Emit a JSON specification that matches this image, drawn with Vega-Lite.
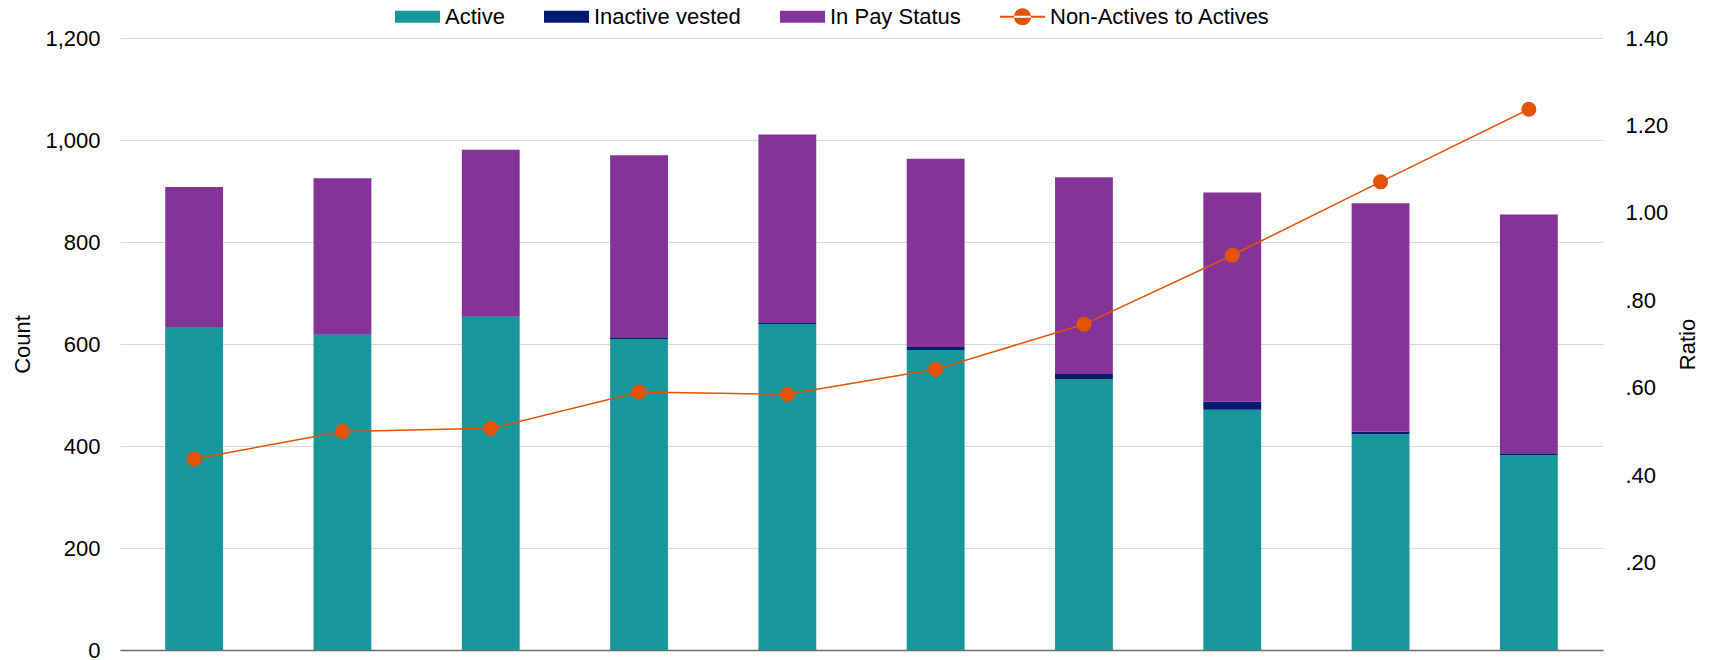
{
  "$schema": "https://vega.github.io/schema/vega-lite/v6.json",
  "width": 1483,
  "height": 612,
  "autosize": {"type": "none"},
  "padding": {"left": 120, "top": 38, "right": 111, "bottom": 10},
  "background": "white",
  "config": {
    "font": "Liberation Sans",
    "view": {"stroke": null},
    "axis": {"labelFont": "Liberation Sans", "titleFont": "Liberation Sans", "labelFontSize": 22, "titleFontSize": 22, "titleFontWeight": "normal", "labelColor": "#000000", "titleColor": "#000000"}
  },
  "datasets": {
    "bars": [
      {"period": "1", "series": "Active", "order": 1, "count": 632},
      {"period": "1", "series": "Inactive vested", "order": 2, "count": 1},
      {"period": "1", "series": "In Pay Status", "order": 3, "count": 275},
      {"period": "2", "series": "Active", "order": 1, "count": 618},
      {"period": "2", "series": "Inactive vested", "order": 2, "count": 1},
      {"period": "2", "series": "In Pay Status", "order": 3, "count": 306},
      {"period": "3", "series": "Active", "order": 1, "count": 653},
      {"period": "3", "series": "Inactive vested", "order": 2, "count": 1},
      {"period": "3", "series": "In Pay Status", "order": 3, "count": 327},
      {"period": "4", "series": "Active", "order": 1, "count": 610},
      {"period": "4", "series": "Inactive vested", "order": 2, "count": 3},
      {"period": "4", "series": "In Pay Status", "order": 3, "count": 357},
      {"period": "5", "series": "Active", "order": 1, "count": 639},
      {"period": "5", "series": "Inactive vested", "order": 2, "count": 2},
      {"period": "5", "series": "In Pay Status", "order": 3, "count": 370},
      {"period": "6", "series": "Active", "order": 1, "count": 588},
      {"period": "6", "series": "Inactive vested", "order": 2, "count": 6},
      {"period": "6", "series": "In Pay Status", "order": 3, "count": 369},
      {"period": "7", "series": "Active", "order": 1, "count": 531},
      {"period": "7", "series": "Inactive vested", "order": 2, "count": 10},
      {"period": "7", "series": "In Pay Status", "order": 3, "count": 386},
      {"period": "8", "series": "Active", "order": 1, "count": 471},
      {"period": "8", "series": "Inactive vested", "order": 2, "count": 16},
      {"period": "8", "series": "In Pay Status", "order": 3, "count": 410},
      {"period": "9", "series": "Active", "order": 1, "count": 423},
      {"period": "9", "series": "Inactive vested", "order": 2, "count": 5},
      {"period": "9", "series": "In Pay Status", "order": 3, "count": 448},
      {"period": "10", "series": "Active", "order": 1, "count": 382},
      {"period": "10", "series": "Inactive vested", "order": 2, "count": 4},
      {"period": "10", "series": "In Pay Status", "order": 3, "count": 468}
    ],
    "ratio": [
      {"period": "1", "series": "Non-Actives to Actives", "ratio": 0.437},
      {"period": "2", "series": "Non-Actives to Actives", "ratio": 0.5},
      {"period": "3", "series": "Non-Actives to Actives", "ratio": 0.507},
      {"period": "4", "series": "Non-Actives to Actives", "ratio": 0.59},
      {"period": "5", "series": "Non-Actives to Actives", "ratio": 0.585},
      {"period": "6", "series": "Non-Actives to Actives", "ratio": 0.642},
      {"period": "7", "series": "Non-Actives to Actives", "ratio": 0.745},
      {"period": "8", "series": "Non-Actives to Actives", "ratio": 0.903},
      {"period": "9", "series": "Non-Actives to Actives", "ratio": 1.071},
      {"period": "10", "series": "Non-Actives to Actives", "ratio": 1.237}
    ]
  },
  "encoding": {
    "x": {
      "field": "period", "type": "nominal", "sort": null,
      "scale": {"paddingInner": 0.61, "paddingOuter": 0.305},
      "axis": {"title": null, "labels": false, "ticks": false, "domain": true, "domainColor": "#6b6b6b", "domainWidth": 1.5, "grid": false}
    }
  },
  "layer": [
    {
      "data": {"name": "bars"},
      "mark": {"type": "bar"},
      "encoding": {
        "y": {
          "field": "count", "type": "quantitative", "stack": "zero",
          "scale": {"domain": [0, 1200], "nice": false},
          "axis": {"title": "Count", "values": [0, 200, 400, 600, 800, 1000, 1200], "format": ",d", "grid": true, "gridColor": "#d9d9d9", "gridWidth": 1, "domain": false, "ticks": false, "labelPadding": 20, "titlePadding": 10}
        },
        "order": {"field": "order", "type": "quantitative"},
        "color": {
          "field": "series", "type": "nominal",
          "scale": {
            "domain": ["Active", "Inactive vested", "In Pay Status", "Non-Actives to Actives"],
            "range": ["#17979c", "#001c71", "#843396", "#e35205"]
          },
          "legend": {
            "orient": "none", "legendX": 275, "legendY": -44, "direction": "horizontal", "title": null,
            "symbolSize": 2025, "symbolStrokeWidth": 0, "labelFontSize": 22, "labelFont": "Liberation Sans", "labelColor": "#000000", "labelLimit": 500,
            "columnPadding": 39, "labelOffset": 5, "padding": 0,
            "encode": {
              "symbols": {
                "update": {
                  "shape": {"signal": "datum.value === 'Non-Actives to Actives' ? 'M-1,-0.04H1V0.04H-1Z M-0.38,0A0.38,0.38,0,1,0,0.38,0A0.38,0.38,0,1,0,-0.38,0Z' : 'M-1,-0.27H1V0.27H-1Z'"},
                  "fill": {"scale": "color", "field": "value"},
                  "opacity": {"value": 1}
                }
              }
            }
          }
        }
      }
    },
    {
      "data": {"name": "ratio"},
      "mark": {"type": "line", "strokeWidth": 1.5, "point": {"filled": true, "size": 227, "opacity": 1}},
      "encoding": {
        "y": {
          "field": "ratio", "type": "quantitative",
          "scale": {"domain": [0, 1.4], "nice": false},
          "axis": {"title": "Ratio", "orient": "right", "titleAngle": 270, "values": [0, 0.2, 0.4, 0.6, 0.8, 1.0, 1.2, 1.4], "labelExpr": "datum.value == 0 ? '' : (datum.value < 1 ? slice(format(datum.value, '.2f'), 1) : format(datum.value, '.2f'))", "grid": false, "domain": false, "ticks": false, "labelPadding": 22, "titlePadding": 32}
        },
        "color": {"field": "series", "type": "nominal"}
      }
    }
  ],
  "resolve": {"scale": {"y": "independent"}}
}
